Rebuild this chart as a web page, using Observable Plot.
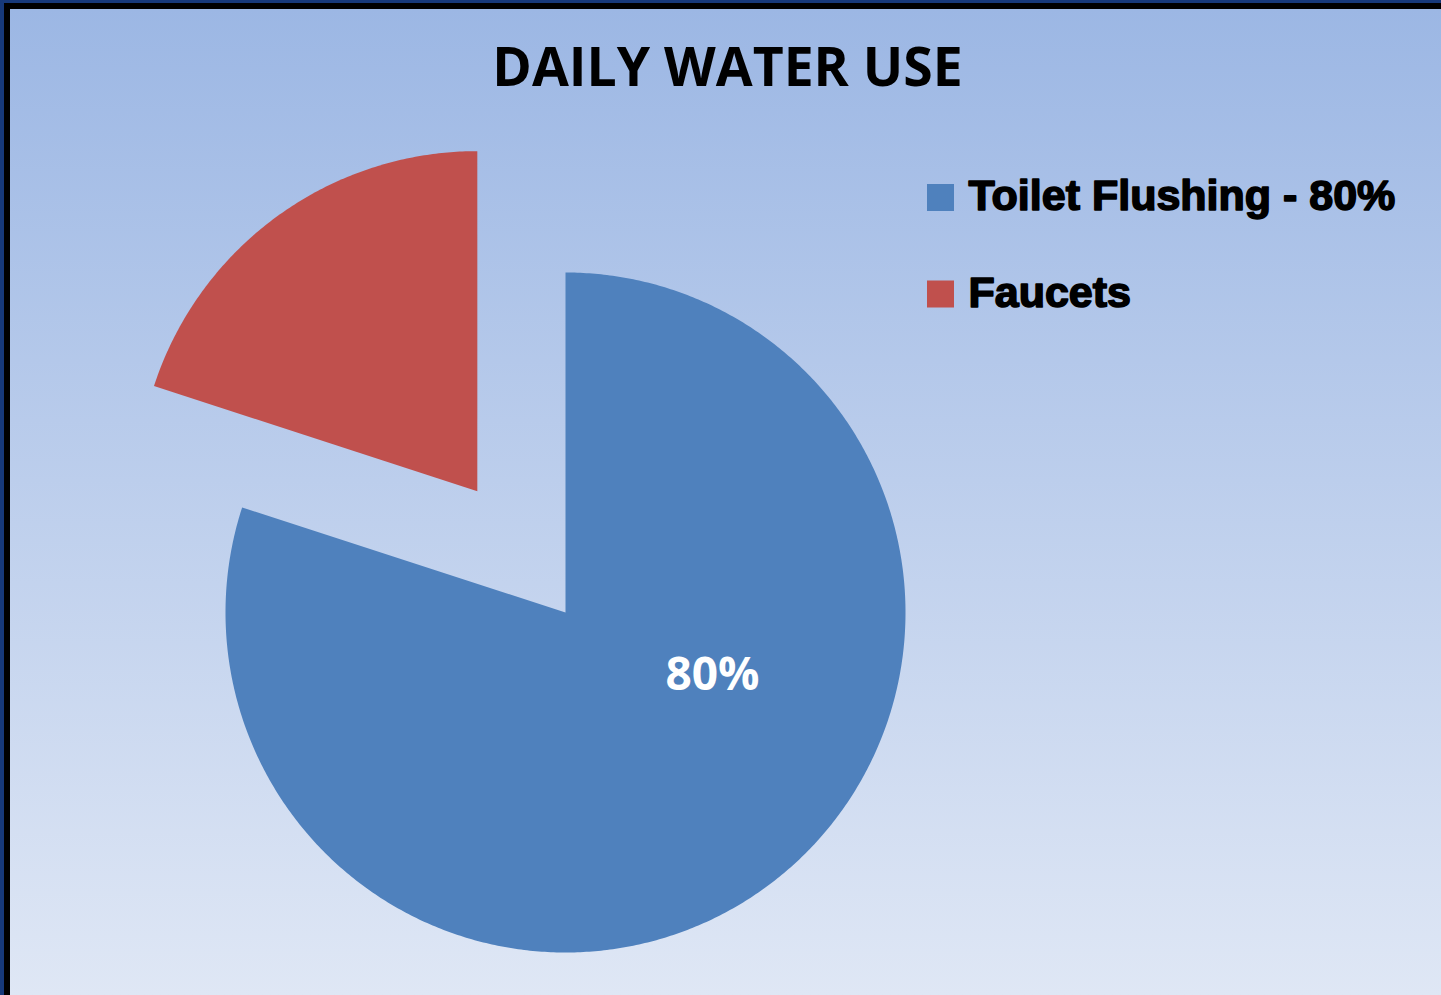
<!DOCTYPE html>
<html>
<head>
<meta charset="utf-8">
<script src="https://cdn.jsdelivr.net/npm/d3@7"></script>
<script src="https://cdn.jsdelivr.net/npm/@observablehq/plot@0.6"></script>
<style>
  html, body { margin: 0; padding: 0; overflow: hidden; width: 1441px; height: 995px; }
  #wrap { position: relative; width: 1441px; height: 995px; }
  #wrap svg { position: absolute; left: 0; top: 0; }
  .bd { position: absolute; }
</style>
</head>
<body>
<div id="wrap"></div>
<script>
// ---- data ----
const title = "DAILY WATER USE";
const categories = ["Toilet Flushing - 80%", "Faucets"];
const values = [80, 20];
const sliceLabels = ["80%", ""];
const colors = ["#4F81BD", "#C0504D"];

// ---- layout ----
const W = 1441, H = 995;
const cx = 565, cy = 612, R = 340;
const explode = [0, 150];

const arcs = d3.pie().sort(null)(values);
const step = Math.PI / 360;
const polys = arcs.flatMap((a, i) => {
  const mid = (a.startAngle + a.endAngle) / 2;
  const ox = explode[i] * Math.sin(mid), oy = -explode[i] * Math.cos(mid);
  const pts = [{x: cx + ox, y: cy + oy, cat: categories[i]}];
  const n = Math.ceil((a.endAngle - a.startAngle) / step);
  for (let k = 0; k <= n; ++k) {
    const t = a.startAngle + (a.endAngle - a.startAngle) * k / n;
    pts.push({x: cx + ox + R * Math.sin(t), y: cy + oy - R * Math.cos(t), cat: categories[i]});
  }
  return pts;
});

const labelData = arcs.map((a, i) => ({text: sliceLabels[i], x: cx + 147, y: cy + 63})).filter(d => d.text);
const legendData = categories.map((c, i) => ({cat: c, i}));
const legX = 927, legY0 = 197.5, legDY = 96.5, sq = 27;

const chart = Plot.plot({
  width: W, height: H,
  margin: 0,
  x: {domain: [0, W], range: [0, W], axis: null},
  y: {domain: [0, H], range: [0, H], axis: null},
  color: {domain: categories, range: colors},
  style: {background: "linear-gradient(to bottom, #9BB6E4 0px, #9CB7E4 9px, #DFE7F5 995px)", overflow: "visible"},
  marks: [
    Plot.line(polys, {x: "x", y: "y", z: "cat", fill: "cat", stroke: "none", curve: "linear-closed"}),
    Plot.text(labelData, {x: "x", y: "y", text: "text", fill: "white", fontSize: 46, fontWeight: 700, fontFamily: "Open Sans", lineAnchor: "middle"}),
    Plot.text([title], {x: () => 727, y: () => 68, text: d => d, fill: "black", fontSize: 53.5, fontWeight: 700, fontFamily: "Open Sans", lineAnchor: "middle"}),
    Plot.rect(legendData, {x1: () => legX, x2: () => legX + sq, y1: d => legY0 + d.i * legDY - sq / 2, y2: d => legY0 + d.i * legDY + sq / 2, fill: "cat"}),
    Plot.text(legendData, {x: () => legX + 41, y: d => legY0 - 1.5 + d.i * legDY, text: "cat", textAnchor: "start", lineAnchor: "middle", fill: "black", stroke: "black", strokeWidth: 1.6, fontSize: 43, fontWeight: 700, fontFamily: "Liberation Sans"})
  ]
});
const wrap = document.getElementById("wrap");
wrap.appendChild(chart);
const borders = [
  {l: 0, t: 0, w: 4, h: H, c: "#17397A"},
  {l: 0, t: 0, w: W, h: 3, c: "#17397A"},
  {l: 4, t: 3, w: 6, h: H, c: "#000"},
  {l: 4, t: 3, w: W, h: 6, c: "#000"}
];
for (const b of borders) {
  const d = document.createElement("div");
  d.className = "bd";
  Object.assign(d.style, {left: b.l + "px", top: b.t + "px", width: b.w + "px", height: b.h + "px", background: b.c});
  wrap.appendChild(d);
}
</script>
</body>
</html>
